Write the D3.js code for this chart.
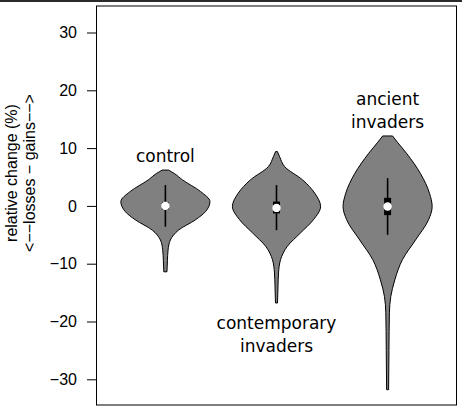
<!DOCTYPE html>
<html>
<head>
<meta charset="utf-8">
<script src="https://d3js.org/d3.v7.min.js"></script>
<style>
  body { margin: 0; background: #fff; }
  svg { display: block; }
</style>
</head>
<body>
<script>
// violin outlines: value (%) and half-width (fraction of max)
var categories = ["control", "contemporary invaders", "ancient invaders"];

var controlValues = [6.2, 5.6, 4.5, 2.5, 0.75, -1.0, -2.4, -4.2, -5.9, -7.6, -9.5, -11.4];
var controlWidths = [0.07, 0.2, 0.38, 0.78, 0.99, 0.89, 0.67, 0.29, 0.11, 0.06, 0.045, 0.035];

var contempValues = [9.4, 8.5, 6.8, 4.5, 2.2, -0.1, -2.4, -4.7, -7.0, -9.3, -11.6, -14, -16.8];
var contempWidths = [0.02, 0.07, 0.18, 0.58, 0.85, 0.98, 0.82, 0.53, 0.24, 0.09, 0.045, 0.033, 0.022];

var ancientValues = [12.1, 11, 9.1, 5.6, 2.2, -0.1, -2.4, -5.9, -9.3, -12.8, -15.7, -18.5, -25, -31.8];
var ancientWidths = [0.11, 0.22, 0.42, 0.73, 0.93, 0.99, 0.91, 0.62, 0.33, 0.16, 0.07, 0.04, 0.03, 0.022];

// whisker low/high, box q1/q3, median
var whiskerLo = [-3.6, -4.2, -5.0];
var whiskerHi = [3.6, 3.6, 4.8];
var boxLo = [-0.6, -1.3, -1.6];
var boxHi = [0.6, 0.75, 1.4];
var medians = [0, -0.35, -0.1];

var yTicks = [30, 20, 10, 0, -10, -20, -30];

var violins = [
  {values: controlValues, widths: controlWidths},
  {values: contempValues, widths: contempWidths},
  {values: ancientValues, widths: ancientWidths}
];

var W = 462, H = 411;
var box = {left: 96.5, right: 456.5, top: 6, bottom: 405};

var svg = d3.select("body").append("svg")
  .attr("width", W)
  .attr("height", H);

// dark strip on top edge of the picture
svg.append("rect")
  .attr("x", 0).attr("y", 0)
  .attr("width", W).attr("height", 2)
  .attr("fill", "#2b2b2b");

var y = d3.scaleLinear()
  .domain([-30, 30])
  .range([379.3, 32.5]);

var x = d3.scaleLinear()
  .domain([0.38, 3.62])
  .range([box.left, box.right]);

var halfMax = 45; // px

svg.append("rect")
  .attr("x", box.left)
  .attr("y", box.top)
  .attr("width", box.right - box.left)
  .attr("height", box.bottom - box.top)
  .attr("fill", "none")
  .attr("stroke", "#000")
  .attr("stroke-width", 1);

// y axis
var yAxis = svg.append("g")
  .attr("transform", "translate(" + box.left + ",0)")
  .call(d3.axisLeft(y).tickValues(yTicks).tickSize(9.5).tickPadding(10)
    .tickFormat(function(d) { return d3.format("")(d).replace("-", "\u2212"); }));
yAxis.select(".domain").remove();
yAxis.selectAll("text")
  .attr("font-family", "Liberation Sans, Arial, sans-serif")
  .attr("font-size", 16)
  .attr("fill", "#000");

// y label
var ylab = svg.append("text")
  .attr("transform", "translate(17,173) rotate(-90)")
  .attr("text-anchor", "middle")
  .attr("font-family", "Liberation Sans, Arial, sans-serif")
  .attr("font-size", 16)
  .attr("fill", "#000");
ylab.append("tspan").attr("x", 0).attr("dy", 0).text("relative change (%)");
ylab.append("tspan").attr("x", 0).attr("dy", 18).text("<\u2212\u2212losses \u2212 gains\u2212\u2212>");

violins.forEach(function(v, i) {
  var cx = x(i + 1);
  var pts = v.values.map(function(val, k) { return {v: val, w: v.widths[k]}; });

  var area = d3.area()
    .y(function(d) { return y(d.v); })
    .x0(function(d) { return cx - d.w * halfMax; })
    .x1(function(d) { return cx + d.w * halfMax; })
    .curve(d3.curveMonotoneY);

  svg.append("path")
    .datum(pts)
    .attr("d", area)
    .attr("fill", "#808080")
    .attr("stroke", "#000")
    .attr("stroke-width", 1);

  // whisker
  svg.append("line")
    .attr("x1", cx).attr("x2", cx)
    .attr("y1", y(whiskerHi[i])).attr("y2", y(whiskerLo[i]))
    .attr("stroke", "#000")
    .attr("stroke-width", 1.6);

  // box
  svg.append("rect")
    .attr("x", cx - 3.5)
    .attr("width", 7)
    .attr("y", y(boxHi[i]))
    .attr("height", y(boxLo[i]) - y(boxHi[i]))
    .attr("fill", "#000");

  svg.append("circle")
    .attr("cx", cx)
    .attr("cy", y(medians[i]))
    .attr("r", 4.2)
    .attr("fill", "#fff");
});

// category labels
var labelFont = "DejaVu Sans, sans-serif";
var labels = [
  {lines: ["control"], x: x(1), y: 162},
  {lines: ["contemporary", "invaders"], x: x(2), y: 329},
  {lines: ["ancient", "invaders"], x: x(3), y: 105}
];
labels.forEach(function(l) {
  var t = svg.append("text")
    .attr("text-anchor", "middle")
    .attr("font-family", labelFont)
    .attr("font-size", 17)
    .attr("fill", "#000");
  l.lines.forEach(function(s, k) {
    t.append("tspan")
      .attr("x", l.x)
      .attr("y", l.y + k * 23)
      .text(s);
  });
});
</script>
</body>
</html>
